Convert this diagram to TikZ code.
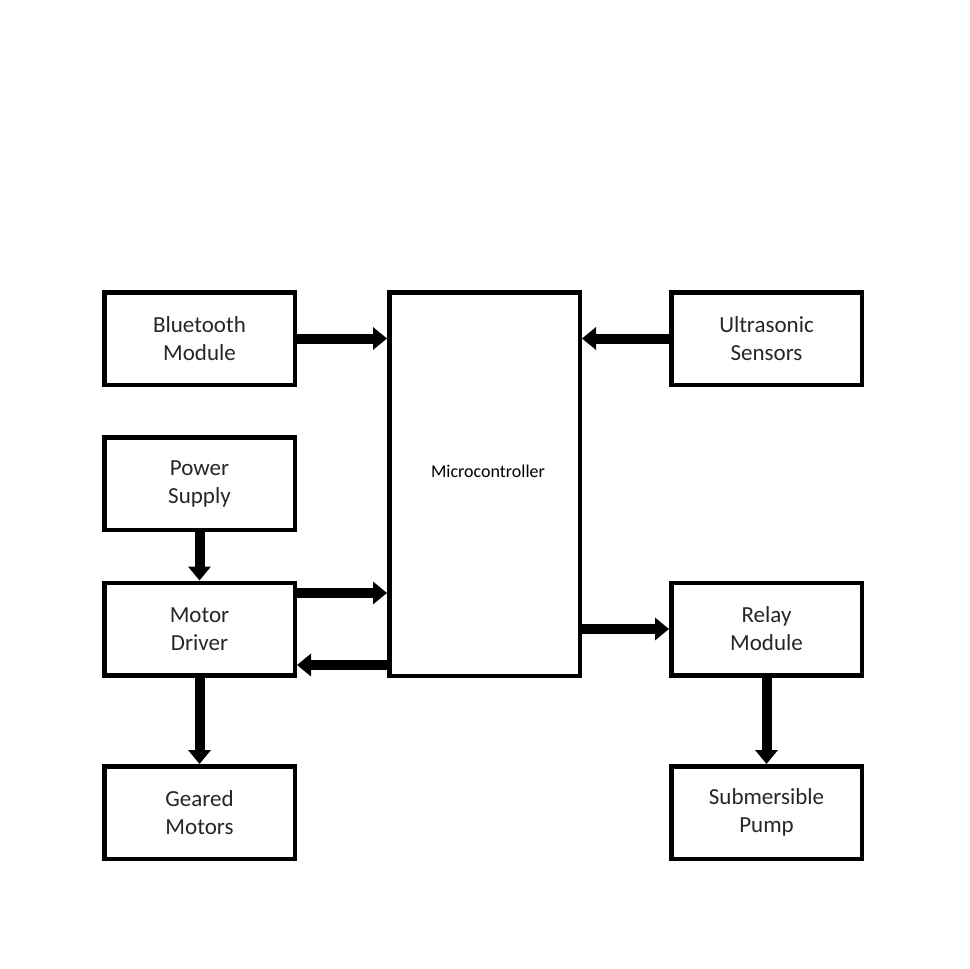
\documentclass[tikz,border=0pt]{standalone}
\usepackage{fontspec}
\setmainfont{Carlito}
\usetikzlibrary{arrows.meta}
\begin{document}
\begin{tikzpicture}[x=1pt,y=-1pt,
  blk/.style={draw=black,line width=4.5pt,minimum width=190.5pt,minimum height=92.5pt,
    align=center,font=\fontsize{23}{28}\selectfont,inner sep=0pt,fill=white,text=black!85},
  arr/.style={line width=10pt,-{Triangle[width=22pt,length=14pt]}}]
\useasboundingbox (0,0) rectangle (969,969);
\node[blk] (bt) at (199.5,338.5) {Bluetooth\\Module};
\node[blk] (ps) at (199.5,483.5) {Power\\Supply};
\node[blk] (md) at (199.5,629) {Motor\\Driver};
\node[blk] (gm) at (199.5,812.5) {Geared\\Motors};
\node[blk,minimum height=383.5pt,font=\fontsize{18}{22}\selectfont,text=black] (mc) at (484.5,484)
  {\raisebox{13pt}[\height][\depth]{\hspace*{7pt}Microcontroller}};
\node[blk] (us) at (766.5,338.5) {Ultrasonic\\Sensors};
\node[blk] (rm) at (766.5,629) {Relay\\Module};
\node[blk] (sp) at (766.5,812.5) {Submersible\\Pump};
\draw[arr] (bt.east) -- (bt.east -| mc.west);
\draw[arr] (us.west) -- (us.west -| mc.east);
\draw[arr] (ps.south) -- (md.north);
\draw[arr] ([yshift=36pt]md.east) -- ([yshift=36pt]md.east -| mc.west);
\draw[arr] ([yshift=-36pt]md.east -| mc.west) -- ([yshift=-36pt]md.east);
\draw[arr] (rm.west -| mc.east) -- (rm.west);
\draw[arr] (md.south) -- (gm.north);
\draw[arr] (rm.south) -- (sp.north);
\end{tikzpicture}
\end{document}
